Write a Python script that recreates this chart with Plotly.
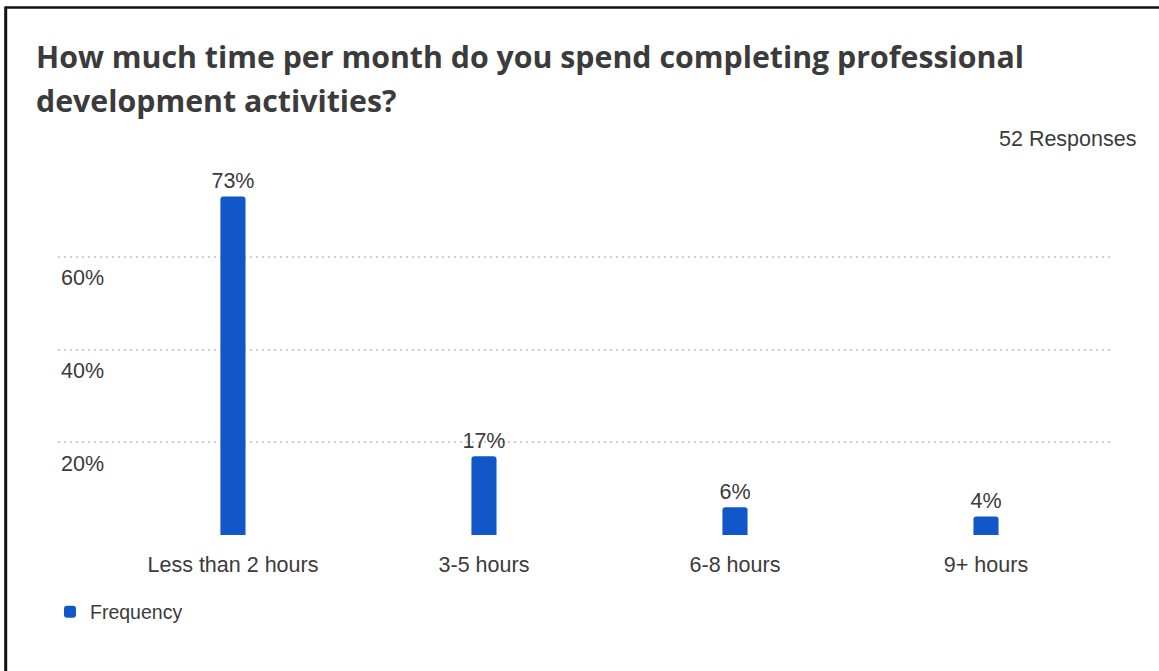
import plotly.graph_objects as go

# Survey results
categories = ["Less than 2 hours", "3-5 hours", "6-8 hours", "9+ hours"]
percentages = [73, 17, 6, 4]
y_tick_values = [0, 20, 40, 60]
y_tick_labels = ["", "20%", "40%", "60%"]
title_lines = [
    "How much time per month do you spend completing professional",
    "development activities?",
]
response_note = "52 Responses"
series_name = "Frequency"

BAR_COLOR = "#1257C8"
TEXT_COLOR = "#3b3b3b"
BODY_FONT = "Liberation Sans, Arial, sans-serif"
TITLE_FONT = "Open Sans, sans-serif"
BODY_SIZE = 21.5

W, H = 1159, 671
M_L, M_R, M_T, M_B = 58, 49, 164, 136
plot_w = W - M_L - M_R
plot_h = H - M_T - M_B


def px_x(px):
    """Convert a page x pixel to paper coordinates."""
    return (px - M_L) / plot_w


def px_y(py):
    """Convert a page y pixel to paper coordinates."""
    return (H - M_B - py) / plot_h


fig = go.Figure()
fig.add_trace(
    go.Bar(
        x=list(range(len(categories))),
        y=percentages,
        name=series_name,
        width=0.1,
        marker=dict(color=BAR_COLOR, line=dict(width=0)),
        text=[f"{v}%" for v in percentages],
        textposition="outside",
        constraintext="none",
        textfont=dict(family=BODY_FONT, size=BODY_SIZE, color=TEXT_COLOR),
        cliponaxis=False,
        showlegend=True,
    )
)

annotations = [
    dict(text=title_lines[0], x=px_x(34), y=px_y(57), xanchor="left", yanchor="middle"),
    dict(text=title_lines[1], x=px_x(34), y=px_y(100), xanchor="left", yanchor="middle"),
]
for a in annotations:
    a.update(xref="paper", yref="paper", showarrow=False,
             font=dict(family=TITLE_FONT, size=30.3, color=TEXT_COLOR, weight="bold"))
annotations.append(
    dict(text=response_note, x=px_x(1138), y=px_y(139), xref="paper", yref="paper",
         xanchor="right", yanchor="middle", showarrow=False,
         font=dict(family=BODY_FONT, size=BODY_SIZE, color=TEXT_COLOR))
)

shapes = [
    # frame edges along the top and left of the card
    dict(type="line", xref="paper", yref="paper", x0=px_x(5.5), x1=px_x(W + 2),
         y0=px_y(7.5), y1=px_y(7.5), line=dict(color="#111111", width=2.5)),
    dict(type="line", xref="paper", yref="paper", x0=px_x(5.7), x1=px_x(5.7),
         y0=px_y(6.5), y1=px_y(H + 2), line=dict(color="#111111", width=3)),
]

fig.update_layout(
    width=W,
    height=H,
    margin=dict(l=M_L, r=M_R, t=M_T, b=M_B, pad=0),
    paper_bgcolor="white",
    plot_bgcolor="white",
    font=dict(family=BODY_FONT, color=TEXT_COLOR),
    barcornerradius=3,
    annotations=annotations,
    shapes=shapes,
    legend=dict(
        x=px_x(50), y=px_y(612), xanchor="left", yanchor="middle",
        font=dict(family=BODY_FONT, size=19.5, color=TEXT_COLOR),
        bgcolor="rgba(0,0,0,0)", itemwidth=30,
    ),
    xaxis=dict(
        range=[-0.697, 3.494],
        tickvals=list(range(len(categories))),
        ticktext=categories,
        tickfont=dict(family=BODY_FONT, size=BODY_SIZE, color=TEXT_COLOR),
        showgrid=False, zeroline=False, showline=False, ticks="",
        ticklabelstandoff=14,
        fixedrange=True,
    ),
    yaxis=dict(
        range=[0, 80],
        tickvals=y_tick_values,
        ticktext=y_tick_labels,
        tickfont=dict(family=BODY_FONT, size=BODY_SIZE, color=TEXT_COLOR),
        ticklabelposition="inside bottom",
        ticklabelshift=6,
        showgrid=True, gridcolor="#cfcfcf", gridwidth=2, griddash="2px,4px",
        zeroline=False, showline=False, ticks="",
        fixedrange=True,
    ),
)

fig.write_html("out.html")
